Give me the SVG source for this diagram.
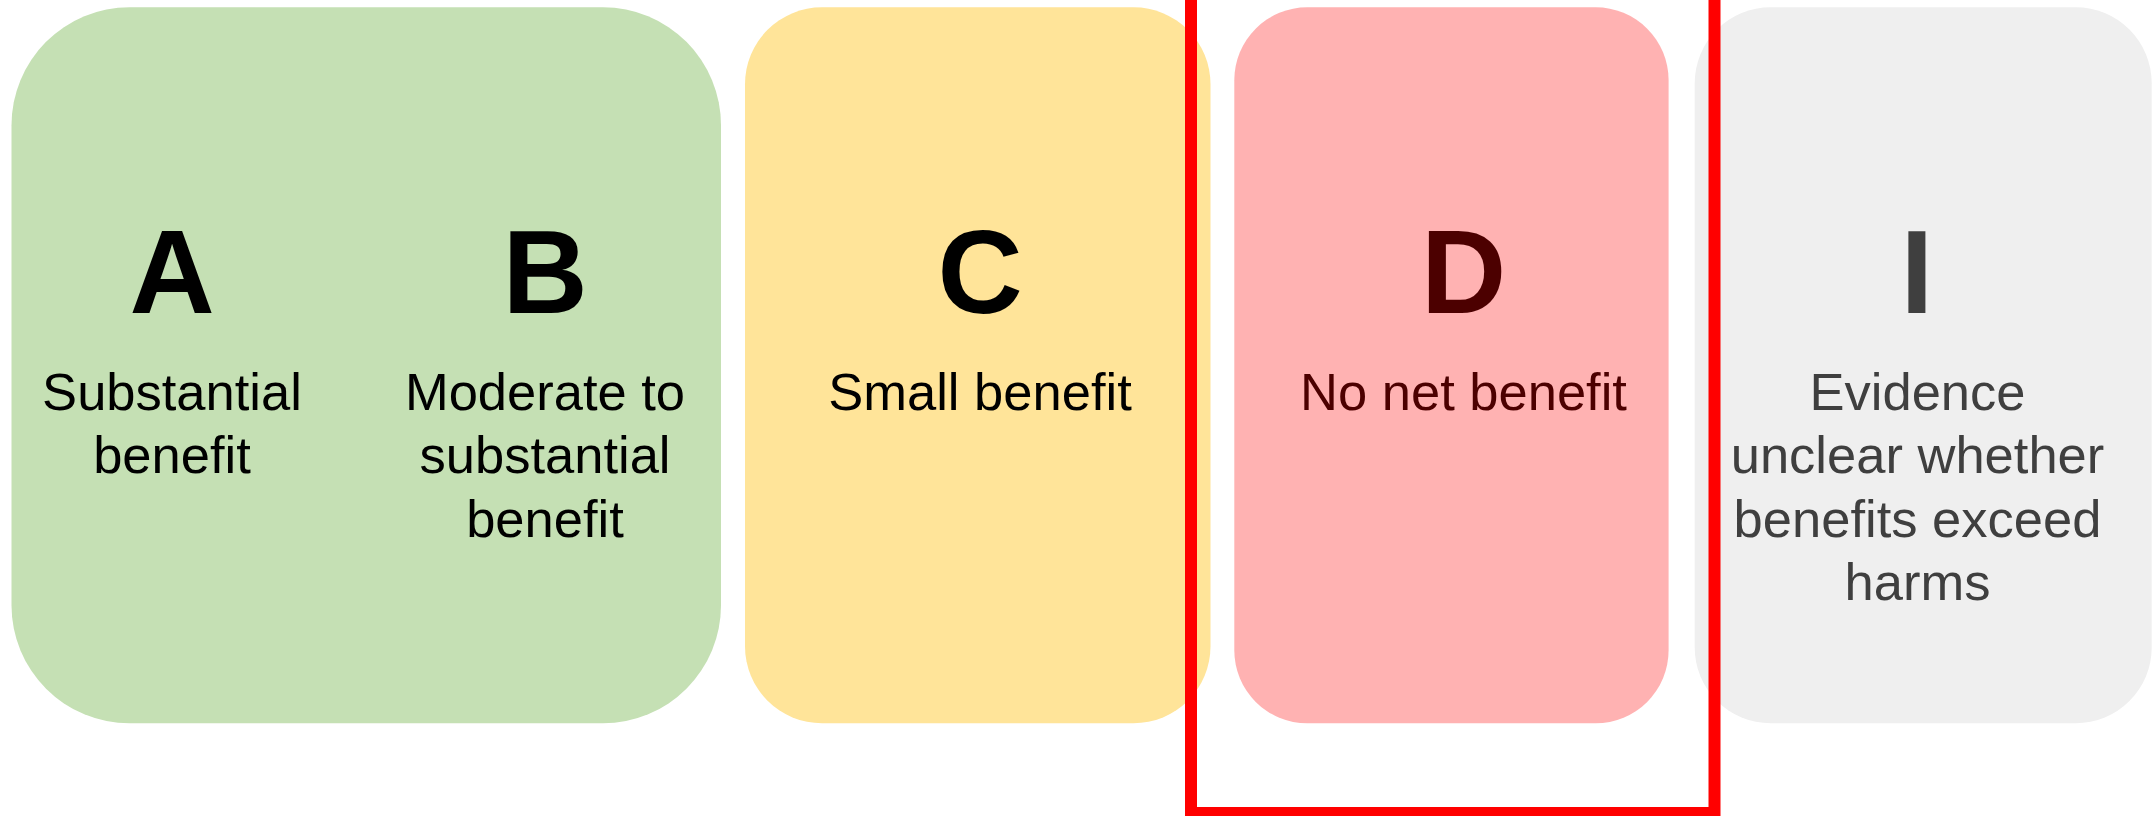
<svg xmlns="http://www.w3.org/2000/svg" width="2153" height="816" viewBox="0 0 2153 816">
  <style>
    .grade { font-family: "Liberation Sans", Arial, sans-serif; font-weight: bold; font-size: 118px; text-anchor: middle; }
    .desc { font-family: "Liberation Sans", Arial, sans-serif; font-size: 52.5px; text-anchor: middle; }
    .dark { fill: #000000; }
    .maroon { fill: #4C0000; }
    .grey { fill: #3F3F3F; }
  </style>
  <rect width="2153" height="816" fill="#FFFFFF"/>

  <!-- Grades A and B share one panel -->
  <g id="grade-ab">
    <rect x="11.5" y="7.3" width="709.5" height="716" rx="118" ry="118" fill="#C5E0B4"/>
    <text class="grade dark" x="172" y="312.5">A</text>
    <text class="desc dark" x="172" y="410">Substantial</text>
    <text class="desc dark" x="172" y="473.3">benefit</text>
    <text class="grade dark" x="545" y="312.5">B</text>
    <text class="desc dark" x="545" y="410">Moderate to</text>
    <text class="desc dark" x="545" y="473.3">substantial</text>
    <text class="desc dark" x="545" y="536.6">benefit</text>
  </g>

  <!-- Grade C -->
  <g id="grade-c">
    <rect x="745" y="7.3" width="465.5" height="716" rx="77" ry="77" fill="#FFE499"/>
    <text class="grade dark" x="980" y="312.5">C</text>
    <text class="desc dark" x="980" y="410">Small benefit</text>
  </g>

  <!-- Grade D -->
  <g id="grade-d">
    <rect x="1234.3" y="7.3" width="434.3" height="716" rx="73" ry="73" fill="#FFB2B2"/>
    <text class="grade maroon" x="1463.5" y="312.5">D</text>
    <text class="desc maroon" x="1463.5" y="410">No net benefit</text>
  </g>

  <!-- Grade I -->
  <g id="grade-i">
    <rect x="1694.7" y="7.3" width="457" height="716" rx="76" ry="76" fill="#EFEFEF"/>
    <text class="grade grey" x="1917" y="312.5">I</text>
    <text class="desc grey" x="1917.5" y="410">Evidence</text>
    <text class="desc grey" x="1917.5" y="473.3">unclear whether</text>
    <text class="desc grey" x="1917.5" y="536.6">benefits exceed</text>
    <text class="desc grey" x="1917.5" y="599.9">harms</text>
  </g>

  <!-- Highlight frame around grade D -->
  <g id="connectors">
    <rect id="highlight" x="1191" y="-20" width="523.5" height="833" fill="none" stroke="#FF0000" stroke-width="12"/>
  </g>
</svg>
